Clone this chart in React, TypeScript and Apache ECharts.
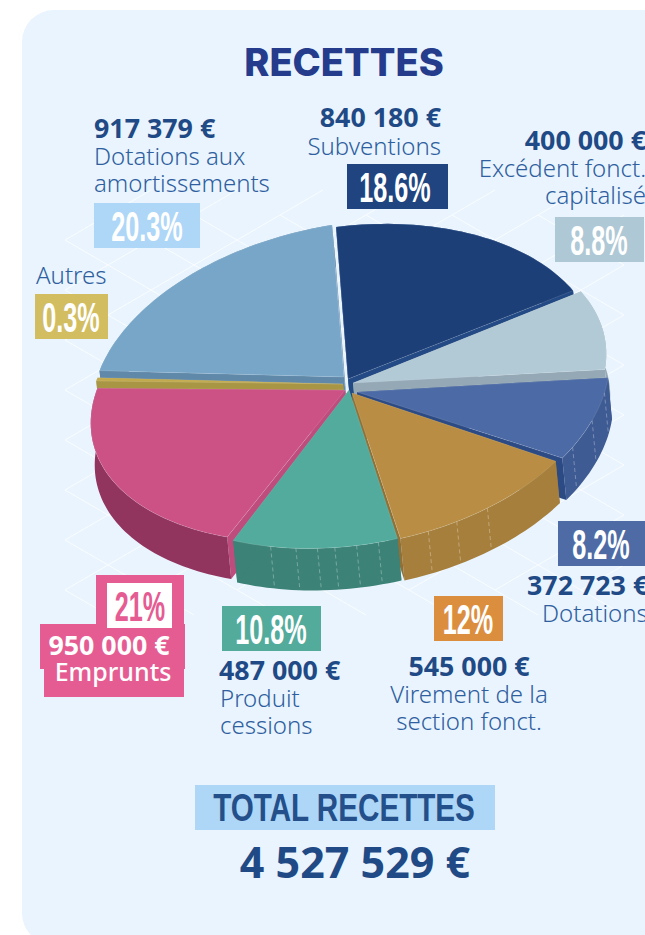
import React, { useEffect, useRef } from "react";
import * as echarts from "echarts";

const categories = ["Subventions", "Excédent fonct. capitalisé", "Dotations", "Virement de la section fonct.", "Produit cessions", "Emprunts", "Autres", "Dotations aux amortissements"];
const amounts = [840180, 400000, 372723, 545000, 487000, 950000, 15247, 917379];
const topColors = ["#1C3F78", "#B2C9D6", "#4C6AA5", "#B98E44", "#52AB9C", "#CC5285", "#C1A94C", "#78A6C8"];
const wallColors = ["#234A85", "#94A9B5", "#3F5B94", "#A67F3C", "#3C8276", "#91345E", "#A89645", "#6088A8"];
const radialColors = ["#234A85", "#94A9B5", "#2C4A84", "#8F7036", "#3C8276", "#BE4C7C", "#A89645", "#6088A8"];
const apexX = [348, 353, 357, 352, 349, 345, 343, 344];
const apexY = [379, 383, 392, 393, 390, 390, 384, 377];
const axisUy = [-152, -148, -155, -152, -155, -147, -152, -152];
const axisVx = [250, 253, 252, 250, 250, 254, 253, 252];
const axisVy = [-31, -36, -38, -33, -33, -40, -40, -40];
const ribs = [[], [], [104, 114, 124], [150, 158, 165], [176, 181, 186, 190, 195, 201], [207], [], []];
const drawOrder = [7, 0, 1, 6, 2, 5, 3, 4];
const total = 4527529;

const UX = -12;
const DEPTH = [4, 42];

const money = (n: number) => String(n).replace(/\B(?=(\d{3})+$)/g, " ") + " €";

const NAVY = "#1F4A85";
const LABEL = "#2F5F9E";
const boldFont = "Noto Sans";
const lightFont = "Noto Sans";
const pctFont = "Liberation Sans";

function txt(text: string, x: number, y: number, o: any = {}) {
  return {
    type: "text", x, y, z: 10, scaleX: o.scaleX ?? 1, scaleY: o.scaleY ?? 1,
    style: {
      text, fill: o.fill ?? NAVY, font: `${o.weight ?? 400} ${o.size ?? 24}px "${o.family ?? boldFont}"`,
      align: o.align ?? "left", verticalAlign: "middle",
    },
  };
}
const bold = (t: string, x: number, y: number, align = "left") => txt(t, x, y - 1.5, { weight: 700, size: 26.8, align, fill: NAVY });
const light = (t: string, x: number, y: number, align = "left") => txt(t, x, y - 1, { family: lightFont, weight: 300, size: 24, align, fill: LABEL });
const box = (x: number, y: number, w: number, h: number, fill: string, z = 9) => ({ type: "rect", z, shape: { x, y, width: w, height: h }, style: { fill } });
const pct = (t: string, x: number, y: number, fill = "#fff") => txt(t, x, y, { family: pctFont, weight: 700, size: 42, align: "center", fill, scaleX: 0.6 });

function lattice() {
  const out: any[] = [];
  const dx = 43, dy = 25;
  const stroke = "rgba(255,255,255,0.75)";
  const x0 = 65, y0 = 240, cols = 13;
  for (let c = 0; c < cols; c++) {
    for (let r = 0; r < 8; r++) {
      const x = x0 + c * dx;
      const y = y0 + r * 2 * dy + (c % 2 ? -dy : 0);
      const yb = y + dy, yt = y - dy;
      out.push({ type: "line", z: 1, shape: { x1: x, y1: y, x2: x + dx, y2: yb }, style: { stroke, lineWidth: 1 } });
      out.push({ type: "line", z: 1, shape: { x1: x, y1: y, x2: x + dx, y2: yt }, style: { stroke, lineWidth: 1 } });
    }
  }
  return out;
}

function renderSlice(_: any, api: any) {
  const idx = api.value(0);
  const a0 = api.value(1);
  const a1 = api.value(2);
  const ax = apexX[idx], ay = apexY[idx];
  const pt = (deg: number) => {
    const t = (deg * Math.PI) / 180;
    return [ax + UX * Math.cos(t) + axisVx[idx] * Math.sin(t), ay + axisUy[idx] * Math.cos(t) + axisVy[idx] * Math.sin(t)];
  };
  const down = (p: number[]) => [p[0] + DEPTH[0], p[1] + DEPTH[1]];
  const arc: number[][] = [];
  const n = Math.max(2, Math.ceil((a1 - a0) / 1.5));
  for (let i = 0; i <= n; i++) arc.push(pt(a0 + ((a1 - a0) * i) / n));
  const apex = [ax, ay];
  const wall = wallColors[idx];
  const radial = radialColors[idx];
  const children: any[] = [
    { type: "polygon", shape: { points: [apex, arc[0], down(arc[0]), down(apex)] }, style: { fill: radial } },
    { type: "polygon", shape: { points: [...arc, ...arc.map(down).reverse()] }, style: { fill: wall } },
    { type: "polygon", shape: { points: [apex, arc[n], down(arc[n]), down(apex)] }, style: { fill: radial } },
  ];
  ribs[idx].forEach((deg) => {
    const p = pt(deg);
    const q = down(p);
    children.push({ type: "line", shape: { x1: p[0], y1: p[1], x2: q[0], y2: q[1] }, style: { stroke: "rgba(255,255,255,0.3)", lineWidth: 1, lineDash: [4, 3] } });
  });
  children.push({ type: "polygon", shape: { points: [apex, ...arc] }, style: { fill: topColors[idx], stroke: "rgba(255,255,255,0.22)", lineWidth: 0.6 } });
  return { type: "group", children };
}

export default function App() {
  const ref = useRef<HTMLDivElement>(null);
  useEffect(() => {
    document.body.style.margin = "0";
    const chart = echarts.init(ref.current!, null, { renderer: "svg" });
    const sum = amounts.reduce((a, b) => a + b, 0);
    let acc = 0;
    const spans = amounts.map((v) => {
      const s = (acc / sum) * 360;
      acc += v;
      return [s, (acc / sum) * 360];
    });
    const data = drawOrder.map((i) => ({ name: categories[i], value: [i, spans[i][0], spans[i][1], amounts[i]] }));
    chart.setOption({
      animation: false,
      backgroundColor: "#ffffff",
      series: [{ type: "custom", coordinateSystem: "none", renderItem: renderSlice, data, z: 5, silent: true }],
      graphic: { elements: [
        { type: "rect", z: 0, shape: { x: 22, y: 10, width: 700, height: 935, r: 32 }, style: { fill: "#E9F4FE" } },
        ...lattice(),
        txt("RECETTES", 344, 62, { family: "Inter", weight: 800, size: 38, align: "center", fill: "#253B8C" }),

        bold(money(amounts[7]), 94, 129),
        light("Dotations aux", 94, 156),
        light("amortissements", 94, 183),
        box(94, 203, 106, 45, "#AED6F7"),
        pct("20.3%", 147, 226),

        bold(money(amounts[0]), 441, 118, "right"),
        light("Subventions", 441, 146, "right"),
        box(347, 164, 101, 45, "#1F4480"),
        pct("18.6%", 395, 187),

        bold(money(amounts[1]), 646, 141, "right"),
        light("Excédent fonct.", 646, 168, "right"),
        light("capitalisé", 646, 195, "right"),
        box(555, 217, 89, 45, "#AFC8D5"),
        pct("8.8%", 599, 240),

        light("Autres", 36, 275),
        box(35, 294, 73, 45, "#D2BD60"),
        pct("0.3%", 71, 317),

        box(558, 521, 90, 45, "#4F6BA5"),
        pct("8.2%", 601, 544),
        bold(money(amounts[2]), 527, 586),
        light("Dotations", 542, 613),

        box(434, 596, 69, 45, "#DC8E3F"),
        pct("12%", 468, 619),
        bold(money(amounts[3]), 469, 667, "center"),
        light("Virement de la", 469, 694, "center"),
        light("section fonct.", 469, 721, "center"),

        box(222, 606, 99, 45, "#53AB9B"),
        pct("10.8%", 271, 629),
        bold(money(amounts[4]), 219, 671),
        light("Produit", 220, 698),
        light("cessions", 220, 725),

        box(96, 575, 88, 122, "#E55C93"),
        box(40, 624, 145, 45, "#E55C93"),
        box(44, 660, 140, 37, "#E55C93"),
        box(107, 583, 65, 45, "#ffffff"),
        pct("21%", 140, 606, "#E55C93"),
        txt(money(amounts[5]), 109, 644, { weight: 700, size: 26.8, align: "center", fill: "#fff" }),
        txt("Emprunts", 113, 671, { weight: 500, size: 25, align: "center", fill: "#fff" }),

        box(195, 785, 300, 45, "#AED6F7"),
        txt("TOTAL RECETTES", 344, 808, { family: pctFont, weight: 700, size: 38, align: "center", fill: "#234F8B", scaleX: 0.78 }),
        txt(money(total), 355, 861, { weight: 700, size: 43, align: "center", fill: NAVY }),
      ] },
    });
    return () => chart.dispose();
  }, []);
  return <div ref={ref} style={{ width: 645, height: 935, overflow: "hidden" }} />;
}
